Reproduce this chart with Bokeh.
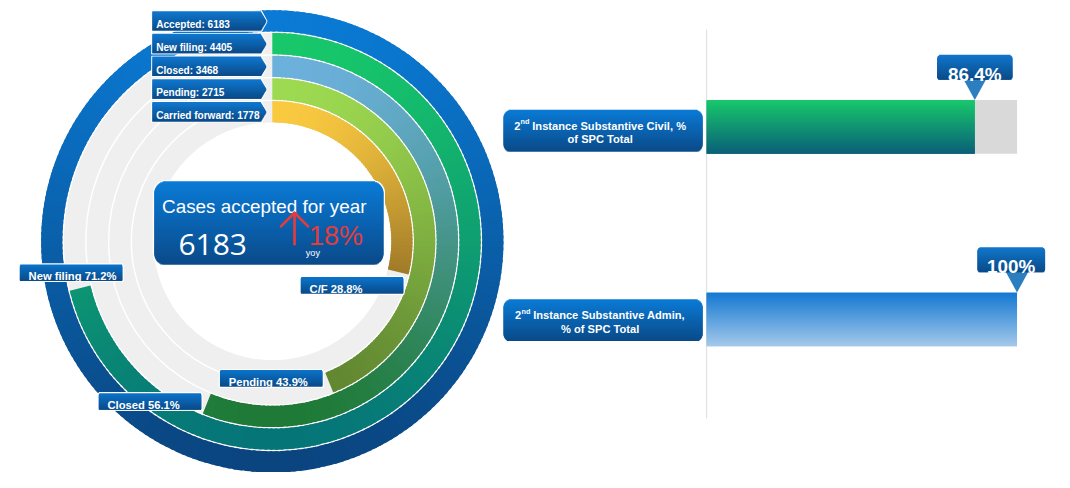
import glob, math
import numpy as np
from bokeh.plotting import figure
from bokeh.models import Range1d
from bokeh.core.properties import value
from bokeh.embed import file_html
from bokeh.resources import INLINE

# ---------------- data ----------------
ring_names = ["Accepted", "New filing", "Closed", "Pending", "Carried forward"]
ring_short = ["Accepted", "New filing", "Closed", "Pending", "C/F"]
ring_counts = [6183, 4405, 3468, 2715, 1778]
ring_pct = [100.0, 71.2, 56.1, 43.9, 28.8]
headline_title = "Cases accepted for year"
headline_value = 6183
yoy_change = "18%"
yoy_label = "yoy"
bar_line1 = [("2", "nd", "Instance Substantive Civil, %"),
             ("2", "nd", "Instance Substantive Admin,")]
bar_line2 = ["of SPC Total", "% of SPC Total"]
bar_pct = [86.4, 100.0]

# ---------------- style / layout ----------------
W_REF, H_REF = 1070, 488
PW, PH = 1054, 472
S = PH / H_REF
X0 = -14.0
WHITE = "#ffffff"
SANS = "Liberation Sans"

def Y(y):
    return H_REF - y

def fs(px):
    return f"{px * S:.2f}px"

pats = ["/usr/share/fonts/**/LiberationSansNarrow-Regular*", "/usr/local/share/fonts/**/LiberationSansNarrow-Regular*"]
HAS_NARROW = any(glob.glob(pt, recursive=True) for pt in pats)
NARROW = "Liberation Sans Narrow" if HAS_NARROW else SANS
NK = 1.0 if HAS_NARROW else 0.82

def hx(c):
    c = c.lstrip("#")
    return [int(c[i:i + 2], 16) for i in (0, 2, 4)]

def mix(c0, c1, t):
    a, b = hx(c0), hx(c1)
    t = min(max(t, 0.0), 1.0)
    return "#%02x%02x%02x" % tuple(int(round(a[i] + (b[i] - a[i]) * t)) for i in range(3))

p = figure(width=PW, height=PH, x_range=Range1d(X0, X0 + PW / S), y_range=Range1d(0, H_REF),
           output_backend="svg", toolbar_location=None, min_border=0,
           x_axis_type=None, y_axis_type=None)
p.grid.visible = False
p.outline_line_color = None
p.background_fill_color = "white"
p.border_fill_color = "white"


def shape(x0, x1, y0, y1, c0, c1, radius=0.0, tip=0.0, step=1.0):
    h = y1 - y0
    n = max(2, int(math.ceil(h / step)))
    L, R, T, B, C = [], [], [], [], []
    for i in range(n):
        ya = y0 + h * i / n
        yb = y0 + h * (i + 1) / n
        ym = (ya + yb) / 2
        inset = 0.0
        if radius > 0:
            d = min(ym - y0, y1 - ym)
            if d < radius:
                inset = radius - math.sqrt(max(0.0, radius ** 2 - (radius - d) ** 2))
        left = x0 + inset
        right = x1 - inset
        if tip > 0:
            right = x1 + tip * (1 - abs(ym - (y0 + y1) / 2) / (h / 2))
        L.append(left); R.append(right)
        T.append(Y(ya)); B.append(Y(min(yb + 1.0, y1)))
        C.append(mix(c0, c1, (ym - y0) / h))
    p.quad(left=L, right=R, top=T, bottom=B, fill_color=C, line_color=None)


def box(x0, x1, y0, y1, c0, c1, radius=0.0, tip=0.0, border=None, bw=1.0):
    if border:
        shape(x0 - bw, x1 + bw, y0 - bw, y1 + bw, border, border,
              radius=radius + bw if radius else 0.0, tip=tip)
    shape(x0, x1, y0, y1, c0, c1, radius=radius, tip=tip)


def txt(x, y, s, size, font=SANS, style="normal", color="white", align="left", baseline="alphabetic"):
    p.text(x=[x], y=[Y(y)], text=[s], text_font=value(font), text_font_size=fs(size),
           text_font_style=style, text_color=color, text_align=align, text_baseline=baseline)

# ---------------- radial bars ----------------
CX, CY = 267.0, 249.0
R_OUT = [239.0, 215.5, 192.0, 168.5, 145.0]
THICK = 22.0
ring_top = ["#0a7ad4", "#17c76a", "#6cb0dc", "#9dd951", "#f9c940"]
ring_bot = ["#0a4580", "#067578", "#1e7a36", "#5f8430", "#6a4a1a"]
TRACK = "#efefef"

for k in range(len(ring_pct)):
    p.annulus(x=CX, y=Y(CY), inner_radius=R_OUT[k] - THICK, outer_radius=R_OUT[k],
              fill_color=TRACK, line_color=None)

for k in range(len(ring_pct)):
    frac = ring_pct[k] / 100.0
    n = max(1, int(round(360 * frac / 1.5)))
    edges = np.linspace(0, 360 * frac, n + 1)
    rm = R_OUT[k] - THICK / 2
    mids = (edges[:-1] + edges[1:]) / 2
    ymid = Y(CY) + rm * np.cos(np.radians(mids))
    tt = (Y(CY) + rm - ymid) / (2 * rm)
    cols = [mix(ring_top[k], ring_bot[k], t) for t in tt]
    # each piece overlaps the next one slightly so no seams show
    ends = np.minimum(edges[1:] + 0.8, 360 * frac) if frac < 1 else edges[1:] + 0.8
    p.annular_wedge(x=CX, y=Y(CY), inner_radius=R_OUT[k] - THICK, outer_radius=R_OUT[k],
                    start_angle=list(np.radians(90 - ends)), end_angle=list(np.radians(90 - edges[:-1])),
                    fill_color=cols, line_color=None)

# top-left legend arrows
LAB0 = "#0f78d0"; LAB1 = "#0a4a88"
for k in range(len(ring_names)):
    cyk = CY - R_OUT[k] + THICK / 2
    box(143, 255, cyk - 10, cyk + 10, LAB0, LAB1, tip=6, border=WHITE, bw=1.0)
    txt(147, cyk + 4.0, f"{ring_names[k]}: {ring_counts[k]}", 10.4, style="bold")

# bottom end-of-arc labels
label_offsets = [None, (-9.3, -15.9), (-58.7, -2.3), (-60.0, -4.5), (-47.7, 13.8)]
for k in range(1, len(ring_pct)):
    a = math.radians(360 * ring_pct[k] / 100.0)
    rm = R_OUT[k] - THICK / 2
    ex = CX + rm * math.sin(a)
    ey = CY - rm * math.cos(a)
    bx, by = ex + label_offsets[k][0], ey + label_offsets[k][1]
    box(bx - 53, bx + 53, by - 8.5, by + 8.5, "#0b74cb", "#0a4a88", radius=1.5, border=WHITE, bw=1.2)
    txt(bx - 44, by + 3.8, f"{ring_short[k]} {ring_pct[k]:.1f}%", 11.6, style="bold")

# center headline box
box(145, 382, 187, 273, "#0a7bd6", "#0a4a8a", radius=12, border=WHITE, bw=1.5)
txt(153, 213, headline_title, 19.5)
txt(170, 252.5, f"{headline_value}", 31, font="Open Sans")
RED = "#e23c3c"
p.multi_line(xs=[[290, 290], [276, 290, 304]], ys=[[Y(252), Y(220)], [Y(233.5), Y(219.5), Y(233.5)]],
             line_color=RED, line_width=2.8 * S, line_cap="round", line_join="round")
txt(305, 243, yoy_change, 34 * NK, font=NARROW, color=RED)
txt(309, 261, yoy_label, 9.5, align="center")

# ---------------- horizontal % bars ----------------
BAR_X0, BAR_LEN = 716.0, 321.0
bar_tops = [103.0, 302.0]
BAR_H = 55.5
label_tops = [113.0, 309.0]
LABEL_H = 43.0
bar_c0 = ["#18c86c", "#1478d2"]
bar_c1 = ["#0a5f78", "#a4c9ea"]
callout_w = [78.0, 70.0]

p.segment(x0=[BAR_X0], y0=[Y(30)], x1=[BAR_X0], y1=[Y(432)], line_color="#e2e2e2", line_width=1.2)

w_main = {" ": 278, "%": 889, ",": 278, "2": 556, "A": 722, "C": 722, "I": 278, "S": 667,
          "a": 556, "b": 611, "c": 556, "d": 611, "e": 556, "i": 278, "l": 278, "m": 889,
          "n": 611, "s": 556, "t": 333, "u": 611, "v": 556}

for i in range(len(bar_pct)):
    xe = BAR_X0 + BAR_LEN * bar_pct[i] / 100.0
    yt = bar_tops[i]; yb = yt + BAR_H
    if bar_pct[i] < 100:
        p.quad(left=[xe], right=[BAR_X0 + BAR_LEN], top=[Y(yt)], bottom=[Y(yb)],
               fill_color="#d9d9d9", line_color=None)
    shape(BAR_X0, xe, yt, yb, bar_c0[i], bar_c1[i])

    # category label box
    lt = label_tops[i]; lc = lt + LABEL_H / 2
    box(506, 712, lt, lt + LABEL_H, "#0a7bd6", "#0a4a88", radius=8)
    a_, sup, rest = bar_line1[i]
    f1, f2 = 11.5, 7.5
    w_a = sum(w_main.get(ch, 600) for ch in a_) * f1 / 1000
    w_s = sum(w_main.get(ch, 600) for ch in sup) * f2 / 1000
    w_sp = w_main[" "] * f1 / 1000
    w_r = sum(w_main.get(ch, 600) for ch in rest) * f1 / 1000
    tx = 606 - (w_a + w_s + w_sp + w_r) / 2
    b1 = lc - 5.0
    txt(tx, b1, a_, f1, style="bold")
    txt(tx + w_a + 0.3, b1 - 4.0, sup, f2, style="bold")
    txt(tx + w_a + w_s + w_sp, b1, rest, f1, style="bold")
    txt(606, lc + 9.0, bar_line2[i], f1, style="bold", align="center")

    # value callout
    ccx = min(xe, 1066 - callout_w[i] / 2)
    cb = yt - 21.0
    p.patch(x=[xe - 12, xe + 12, xe], y=[Y(cb - 1), Y(cb - 1), Y(yt)], fill_color="#2b7fc0", line_color=None)
    box(ccx - callout_w[i] / 2, ccx + callout_w[i] / 2, cb - 26, cb, "#1177cc", "#094a88", radius=4)
    pct_txt = f"{bar_pct[i]:.1f}%" if bar_pct[i] % 1 else f"{bar_pct[i]:.0f}%"
    txt(ccx, cb - 6, pct_txt, 19.5, style="bold", align="center")

open("out.html", "w").write(file_html(p, INLINE))
